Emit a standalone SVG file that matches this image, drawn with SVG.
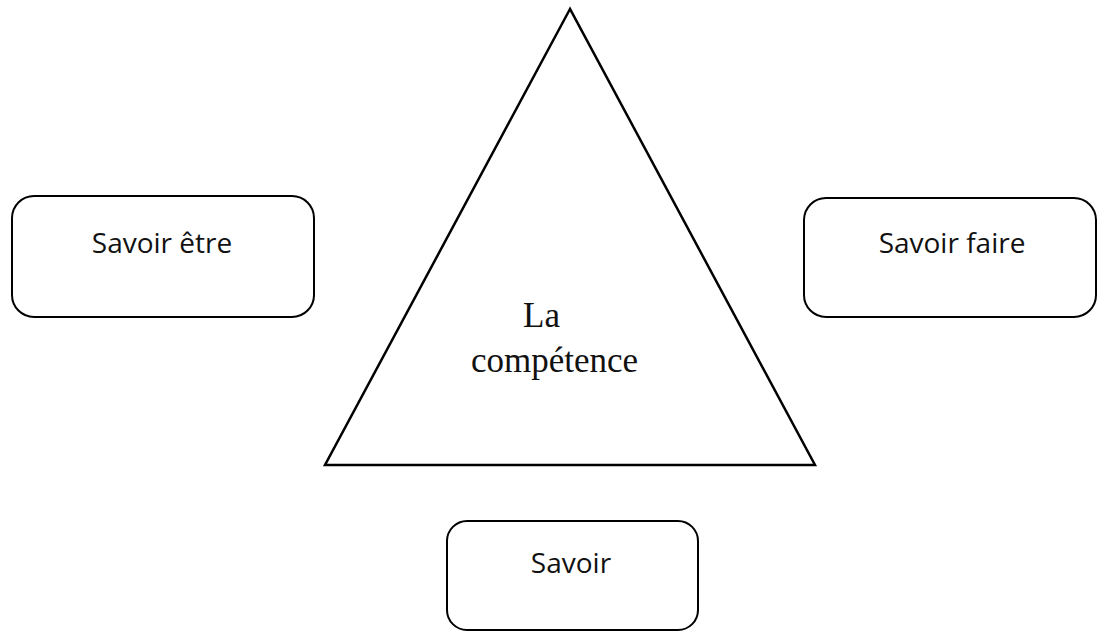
<svg xmlns="http://www.w3.org/2000/svg" width="1099" height="632" viewBox="0 0 1099 632">
<style>
.box{fill:#fff;stroke:#000;stroke-width:2}
.lbl{font-family:"Open Sans","Liberation Sans",Arial,sans-serif;font-size:28px;fill:#111;text-anchor:middle}
.tri{fill:#fff;stroke:#000;stroke-width:2.5;stroke-linejoin:miter}
.serif{font-family:"Liberation Serif","Times New Roman",serif;font-size:35px;fill:#111}
</style>
<rect width="1099" height="632" fill="#fff"/>
<g id="connectors"></g>
<g id="triangle">
<polygon class="tri" points="570,9 325,465 815,465"/>
<text class="serif" x="523" y="327">La</text>
<text class="serif" x="471" y="372">compétence</text>
</g>
<g id="savoir-etre">
<rect class="box" x="12" y="196" width="302" height="121" rx="22"/>
<text class="lbl" x="162" y="253">Savoir être</text>
</g>
<g id="savoir-faire">
<rect class="box" x="804" y="198" width="292" height="119" rx="22"/>
<text class="lbl" x="952" y="253">Savoir faire</text>
</g>
<g id="savoir">
<rect class="box" x="447" y="521" width="251" height="109" rx="20"/>
<text class="lbl" x="571" y="573">Savoir</text>
</g>
</svg>
